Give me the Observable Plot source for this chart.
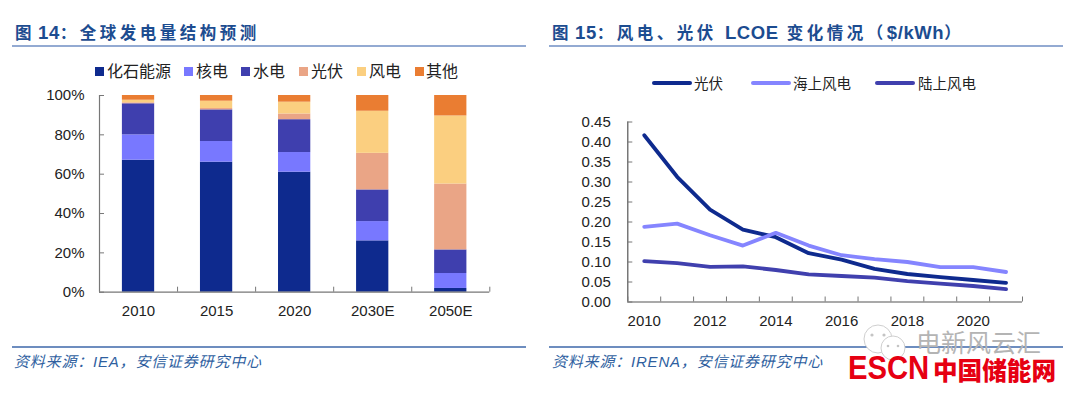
<!DOCTYPE html>
<html lang="zh"><head><meta charset="utf-8">
<script src="https://cdn.jsdelivr.net/npm/d3@7"></script>
<script src="https://cdn.jsdelivr.net/npm/@observablehq/plot@0.6"></script>
<style>
html,body{margin:0;padding:0;background:#fff;overflow:hidden}
#page{position:relative;width:1080px;height:394px;overflow:hidden;font-family:"Liberation Sans","Noto Sans CJK SC",sans-serif}
.abs{position:absolute;white-space:nowrap;line-height:1}
.title{font-weight:700;font-size:16.5px;letter-spacing:3.5px;color:#1c4c90}
.title b{font-size:18.5px;letter-spacing:.6px}
.title b.n{margin-left:3px}
.cap{font-style:italic;font-size:15px;letter-spacing:.8px;color:#2f5f9f}
.rule{position:absolute;height:2px}
.leg{font-size:16px;color:#222}
.swatch{position:absolute;width:9px;height:9px}
.lswatch{position:absolute;width:40px;height:3.6px;border-radius:2px}
.leg2{font-size:14.5px;color:#222}
</style></head><body><div id="page"></div>
<script>
const years = ["2010","2015","2020","2030E","2050E"];
const energy = ["化石能源","核电","水电","光伏","风电","其他"];
const fossil = [67.1,66.1,61.0,26.1,1.9];
const nuclear = [12.9,10.5,10.0,9.8,7.6];
const hydro = [15.8,16.1,16.7,16.1,12.0];
const solarShare = [0.5,0.7,2.9,18.6,33.5];
const windShare = [1.3,3.7,6.0,21.4,34.6];
const otherShare = [2.4,2.9,3.4,8.0,10.4];
const energyColors = ["#0e2a8e","#7878ff","#3f3fae","#eaa586","#fbcf80","#ea7d32"];

const lcoeYears = [2010,2011,2012,2013,2014,2015,2016,2017,2018,2019,2020,2021];
const lcoeNames = ["光伏","海上风电","陆上风电"];
const pv = [0.417,0.313,0.231,0.181,0.162,0.122,0.106,0.083,0.070,0.062,0.055,0.048];
const offshore = [0.188,0.196,0.167,0.141,0.173,0.141,0.117,0.107,0.100,0.087,0.087,0.075];
const onshore = [0.102,0.097,0.088,0.089,0.080,0.069,0.065,0.061,0.052,0.046,0.040,0.032];
const lcoeColors = ["#0e2a8e","#8585ff","#4040ae"];

const page = document.getElementById("page");
function add(cls, text, css){const d=document.createElement("div");d.className=cls;if(text)d.textContent=text;Object.assign(d.style,css);page.appendChild(d);return d;}

/* left chart */
const shares=[fossil,nuclear,hydro,solarShare,windShare,otherShare];
const stackRows=[];
years.forEach((y,i)=>{shares.forEach((s,k)=>stackRows.push({i,year:y,name:energy[k],value:s[i]}));});
const axisLeft="#777", axisRight="#555", txt="#222";
const fontStyle={fontFamily:'"Liberation Sans",sans-serif',fontSize:"15px",position:"absolute",left:"0",top:"0",background:"transparent"};
const left=Plot.plot({
  width:540,height:394,marginTop:95,marginBottom:102.3,marginLeft:99,marginRight:50.7,
  style:fontStyle,
  x:{type:"linear",domain:[0,5],axis:null},
  y:{domain:[0,100],axis:null},
  color:{domain:energy,range:energyColors},
  marks:[
    Plot.rectY(stackRows,Plot.stackY({x1:"i",x2:d=>d.i+1,y:"value",fill:"name",order:energy,insetLeft:22.9,insetRight:22.9})),
    Plot.ruleX([0],{stroke:axisLeft,strokeWidth:1.2}),
    Plot.ruleY([0],{stroke:axisLeft,strokeWidth:1.2}),
    Plot.axisY({ticks:[0,20,40,60,80,100],tickSize:-5,tickPadding:20,stroke:axisLeft,fill:txt,tickFormat:d=>d+"%",label:null}),
    Plot.axisX({ticks:[0,1,2,3,4,5],tickSize:-5,stroke:axisLeft,tickFormat:()=>"",label:null}),
    Plot.axisX({ticks:[.5,1.5,2.5,3.5,4.5],tickSize:0,tickPadding:13,fill:txt,tickFormat:d=>years[d-.5],label:null})
  ]
});
page.appendChild(left);

/* right chart */
const lineRows=[];
[pv,offshore,onshore].forEach((s,k)=>s.forEach((v,i)=>lineRows.push({year:lcoeYears[i],name:lcoeNames[k],value:v})));
const right=Plot.plot({
  width:540,height:394,marginTop:121.5,marginBottom:92.5,marginLeft:87.3,marginRight:58,
  style:{...fontStyle,left:"540px"},
  x:{type:"linear",domain:[2009.5,2021.5],axis:null},
  y:{domain:[0,0.45],axis:null},
  color:{domain:lcoeNames,range:lcoeColors},
  marks:[
    Plot.ruleX([2009.5],{stroke:axisRight,strokeWidth:1.2}),
    Plot.ruleY([0],{stroke:axisRight,strokeWidth:1.2}),
    Plot.axisY({ticks:d3.range(10).map(i=>i*0.05),tickSize:-5,tickPadding:22,stroke:axisLeft,fill:txt,tickFormat:d=>d.toFixed(2),label:null}),
    Plot.axisX({ticks:d3.range(13).map(i=>2009.5+i),tickSize:-5,stroke:axisLeft,tickFormat:()=>"",label:null}),
    Plot.axisX({ticks:[2010,2012,2014,2016,2018,2020],tickSize:0,tickPadding:13,fill:txt,tickFormat:d=>String(d),label:null}),
    Plot.line(lineRows,{x:"year",y:"value",stroke:"name",z:"name",strokeWidth:3.8,curve:"linear"})
  ]
});
page.appendChild(right);

/* titles, rules, captions */
add("abs title","",{left:"15px",top:"23.5px"}).innerHTML='图<b class="n">14</b>：全球发电量结构预测';
add("abs title","",{left:"552px",top:"23.5px"}).innerHTML='图<b class="n">15</b>：风电、光伏 <b>LCOE</b> 变化情况（<b>$/kWh</b>）';
add("rule","",{left:"12px",top:"45px",width:"514px",background:"#93aad2"});
add("rule","",{left:"549px",top:"45px",width:"514px",background:"#93aad2"});
add("rule","",{left:"12px",top:"346px",width:"514px",height:"1.5px",background:"#6d8dbf"});
add("rule","",{left:"549px",top:"346px",width:"514px",height:"1.5px",background:"#6d8dbf"});
add("abs cap","资料来源：IEA，安信证券研究中心",{left:"14px",top:"354px"});
add("abs cap","资料来源：IRENA，安信证券研究中心",{left:"552px",top:"354px"});

/* legends */
const swX=[95,184,241,299,357,415], txX=[107,196,253,311,369,426];
energy.forEach((n,i)=>{
  add("swatch","",{left:swX[i]+"px",top:"67px",background:energyColors[i]});
  add("abs leg",n,{left:txX[i]+"px",top:"63.5px"});
});
const lx=[652,751,875], ltx=[694,793,918];
lcoeNames.forEach((n,i)=>{
  add("lswatch","",{left:lx[i]+"px",top:"81px",background:lcoeColors[i]});
  add("abs leg2",n,{left:ltx[i]+"px",top:"77px"});
});

/* watermark */
const wm=document.createElementNS("http://www.w3.org/2000/svg","svg");
wm.setAttribute("width","50");wm.setAttribute("height","44");
wm.style.cssText="position:absolute;left:860px;top:322px";
wm.innerHTML='<g fill="#fff" stroke="#cfcfcf" stroke-width="1"><circle cx="18" cy="17" r="14"/><circle cx="33" cy="26" r="12"/></g><g fill="#c4c4c4"><circle cx="12" cy="13" r="1.6"/><circle cx="24" cy="13" r="1.6"/><circle cx="28" cy="24" r="1.3"/><circle cx="38" cy="24" r="1.3"/></g>';
page.appendChild(wm);
add("abs","电新风云汇",{left:"916px",top:"330.5px",fontSize:"25px",color:"#b4b4b4"});
add("abs","ESCN",{left:"848px",top:"355px",lineHeight:"24px",fontSize:"34px",fontWeight:"700",color:"#e60012",transform:"scaleX(.86)",transformOrigin:"left",fontFamily:'"Liberation Sans",sans-serif'});
add("abs","中国储能网",{left:"933px",top:"356.5px",fontSize:"24.6px",fontWeight:"900",color:"#e60012",fontFamily:'"Noto Sans CJK SC",sans-serif'});
</script></body></html>
